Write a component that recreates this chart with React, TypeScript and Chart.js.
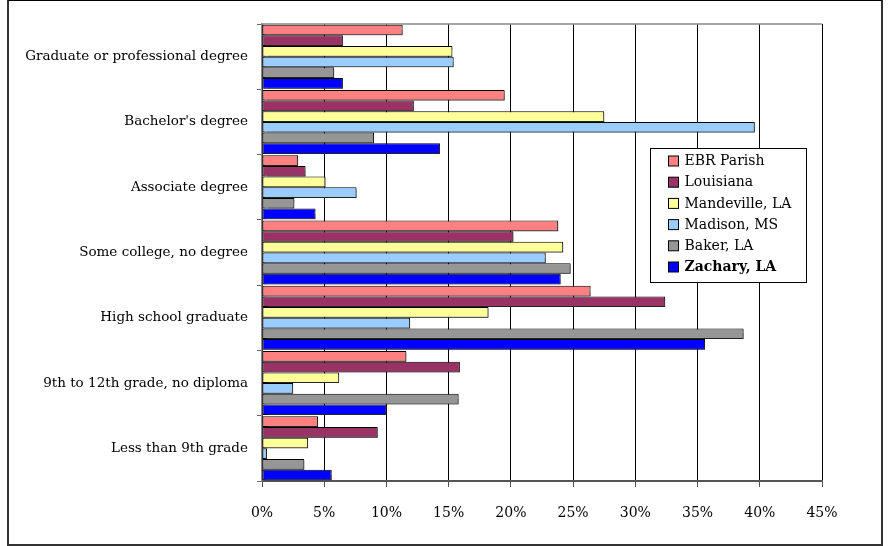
import React, { useEffect, useRef } from "react";
import { Chart, registerables } from "chart.js";

Chart.register(...registerables);

const categories = [
  "Graduate or professional degree",
  "Bachelor's degree",
  "Associate degree",
  "Some college, no degree",
  "High school graduate",
  "9th to 12th grade, no diploma",
  "Less than 9th grade",
];

const ebrParish = [11.3, 19.5, 2.9, 23.8, 26.4, 11.6, 4.5];
const louisiana = [6.5, 12.2, 3.5, 20.2, 32.4, 15.9, 9.3];
const mandeville = [15.3, 27.5, 5.1, 24.2, 18.2, 6.2, 3.7];
const madison = [15.4, 39.6, 7.6, 22.8, 11.9, 2.5, 0.4];
const baker = [5.8, 9.0, 2.6, 24.8, 38.7, 15.8, 3.4];
const zachary = [6.5, 14.3, 4.3, 24.0, 35.6, 10.0, 5.6];

const seriesNames = ["EBR Parish", "Louisiana", "Mandeville, LA", "Madison, MS", "Baker, LA", "Zachary, LA"];
const seriesColors = ["#FF8080", "#993366", "#FFFF99", "#99CCFF", "#969696", "#0000FF"];
const seriesValues = [ebrParish, louisiana, mandeville, madison, baker, zachary];
const boldSeries = "Zachary, LA";

const xMax = 45;
const xStep = 5;

const FONT = "'DejaVu Serif', serif";

const shadowPlugin = {
  id: "barShadow",
  beforeDatasetsDraw(chart: any) {
    const ctx = chart.ctx;
    ctx.save();
    ctx.shadowColor = "rgba(60,60,60,0.6)";
    ctx.shadowOffsetX = 1.5;
    ctx.shadowOffsetY = 1.5;
    ctx.shadowBlur = 0.8;
  },
  afterDatasetsDraw(chart: any) {
    chart.ctx.restore();
  },
};

const framePlugin = {
  id: "plotTop",
  afterDraw(chart: any) {
    const { ctx, chartArea } = chart;
    ctx.save();
    ctx.strokeStyle = "#888";
    ctx.lineWidth = 1.5;
    ctx.beginPath();
    ctx.moveTo(chartArea.left, chartArea.top);
    ctx.lineTo(chartArea.right, chartArea.top);
    ctx.stroke();
    ctx.restore();
  },
};

const legendPlugin = {
  id: "boxLegend",
  afterDraw(chart: any) {
    const { ctx, chartArea } = chart;
    const bx = chartArea.left + 388.5;
    const by = chartArea.top + 124.5;
    const bw = 156;
    const bh = 134;
    ctx.save();
    ctx.fillStyle = "#fff";
    ctx.fillRect(bx, by, bw, bh);
    ctx.strokeStyle = "#000";
    ctx.lineWidth = 1;
    ctx.strokeRect(bx, by, bw, bh);
    const items = chart.data.datasets;
    items.forEach((ds: any, i: number) => {
      const cy = by + 12.5 + i * 21.2;
      ctx.fillStyle = ds.backgroundColor;
      ctx.fillRect(bx + 18, cy - 5, 10, 10);
      ctx.strokeStyle = "#000";
      ctx.lineWidth = 1;
      ctx.strokeRect(bx + 18, cy - 5, 10, 10);
      ctx.fillStyle = "#000";
      ctx.font = (ds.label === boldSeries ? "bold " : "") + "14px " + FONT;
      ctx.textAlign = "left";
      ctx.textBaseline = "middle";
      ctx.fillText(ds.label, bx + 34, cy + 0.5);
    });
    ctx.restore();
  },
};

export default function App() {
  const ref = useRef<HTMLCanvasElement | null>(null);

  useEffect(() => {
    if (!ref.current) return;
    const chart = new Chart(ref.current, {
      type: "bar",
      data: {
        labels: categories,
        datasets: seriesNames.map((name, i) => ({
          label: name,
          data: seriesValues[i],
          backgroundColor: seriesColors[i],
          borderColor: "#000",
          borderWidth: 1,
          borderSkipped: false,
          categoryPercentage: 0.98,
          barPercentage: 1.0,
        })),
      },
      options: {
        indexAxis: "y",
        responsive: false,
        animation: false,
        layout: { padding: { left: 8, top: 24, right: 66, bottom: 0 } },
        plugins: {
          legend: { display: false },
          tooltip: { enabled: false },
        },
        scales: {
          x: {
            min: 0,
            max: xMax,
            ticks: {
              stepSize: xStep,
              callback: (v: any) => v + "%",
              font: { family: FONT, size: 14 },
              color: "#000",
              padding: 18,
              maxRotation: 0,
            },
            grid: { color: "#000", lineWidth: 1, tickLength: 6, tickColor: "#555" },
            border: { color: "#555", width: 2 },
            afterFit: (scale: any) => {
              scale.height = 65;
            },
          },
          y: {
            ticks: {
              font: { family: FONT, size: 13.5 },
              color: "#000",
              padding: 9,
            },
            grid: { drawOnChartArea: false, tickLength: 5, color: "#666", offset: true },
            border: { color: "#888", width: 1.5 },
            afterFit: (scale: any) => {
              scale.width = 254;
            },
          },
        },
      },
      plugins: [shadowPlugin, framePlugin, legendPlugin],
    });
    return () => chart.destroy();
  }, []);

  return (
    <div style={{ position: "absolute", left: 0, top: 0, width: 888, height: 546, background: "#fff" }}>
      <div
        style={{
          position: "absolute",
          left: 7,
          top: 0,
          width: 876,
          height: 546,
          boxSizing: "border-box",
          borderLeft: "2px solid #333",
          borderTop: "1px solid #000",
          borderRight: "2px solid #333",
          borderBottom: "2px solid #333",
        }}
      />
      <canvas ref={ref} width={888} height={546} style={{ position: "absolute", left: 0, top: 0, width: 888, height: 546 }} />
    </div>
  );
}
